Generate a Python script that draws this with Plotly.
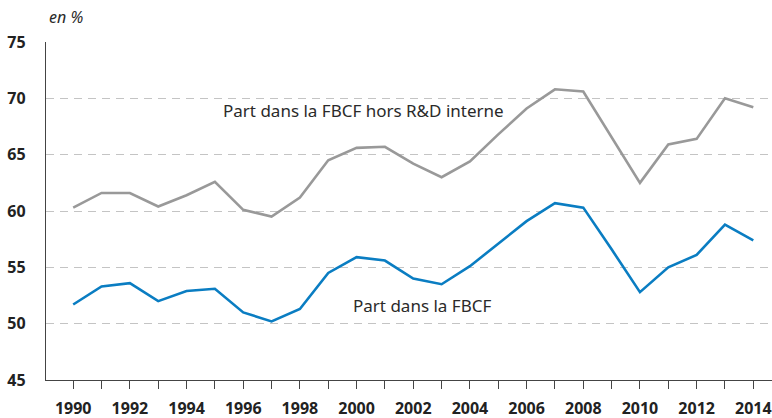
import plotly.graph_objects as go

years = list(range(1990, 2015))
part_hors_rd = [60.3, 61.6, 61.6, 60.4, 61.4, 62.6, 60.1, 59.5, 61.2, 64.5, 65.6, 65.7,
                64.2, 63.0, 64.4, 66.8, 69.1, 70.8, 70.6, 66.6, 62.5, 65.9, 66.4, 70.0, 69.2]
part_fbcf = [51.7, 53.3, 53.6, 52.0, 52.9, 53.1, 51.0, 50.2, 51.3, 54.5, 55.9, 55.6,
             54.0, 53.5, 55.1, 57.1, 59.1, 60.7, 60.3, 56.6, 52.8, 55.0, 56.1, 58.8, 57.4]
x_ticks = list(range(1990, 2015, 2))
y_ticks = [45, 50, 55, 60, 65, 70, 75]

FONT = "Noto Sans"

fig = go.Figure()
fig.add_trace(go.Scatter(x=years, y=part_hors_rd, mode="lines",
                         line=dict(color="#999999", width=2.6), showlegend=False))
fig.add_trace(go.Scatter(x=years, y=part_fbcf, mode="lines",
                         line=dict(color="#0a7dc2", width=2.6), showlegend=False))

fig.add_annotation(text="Part dans la FBCF hors R&D interne", x=1995.22, y=68.95,
                   xanchor="left", yanchor="middle", showarrow=False,
                   font=dict(family=FONT, size=17, color="#2a2a2a"))
fig.add_annotation(text="Part dans la FBCF", x=1999.8, y=51.6,
                   xanchor="left", yanchor="middle", showarrow=False,
                   font=dict(family=FONT, size=17, color="#2a2a2a"))
fig.add_annotation(text="<i>en %</i>", xref="paper", yref="paper", x=0, y=1.0,
                   xshift=1, yshift=25, xanchor="left", yanchor="middle", showarrow=False,
                   font=dict(family=FONT, size=16, color="#2a2a2a"))

fig.update_xaxes(range=[1989.04, 2014.66], tickmode="array", tickvals=x_ticks,
                 ticktext=[f"<b>{t}</b>" for t in x_ticks], automargin=False,
                 showgrid=False, zeroline=False, showline=True, linecolor="#444444", linewidth=1.3,
                 ticks="outside", ticklen=8, tickcolor="#444444", tickwidth=1,
                 minor=dict(ticks="outside", ticklen=8, tickcolor="#444444", dtick=1, tick0=1990),
                 ticklabelstandoff=6,
                 tickfont=dict(family=FONT, size=16, color="#222222"))
fig.update_yaxes(range=[45, 75], tickmode="array", tickvals=y_ticks,
                 ticktext=[f"<b>{t}</b>" for t in y_ticks], automargin=False,
                 showgrid=True, gridcolor="#c4c4c4", gridwidth=1, griddash="8px,6px",
                 zeroline=False, showline=True, linecolor="#444444", linewidth=1.3,
                 ticks="", ticklabelstandoff=16,
                 tickfont=dict(family=FONT, size=16, color="#222222"))

fig.update_layout(width=772, height=418, margin=dict(l=46, r=0, t=42, b=38),
                  plot_bgcolor="white", paper_bgcolor="white")
fig.write_html("out.html", config={"displayModeBar": False},
               post_script="document.body.style.margin='0px';document.body.style.overflow='hidden';")
